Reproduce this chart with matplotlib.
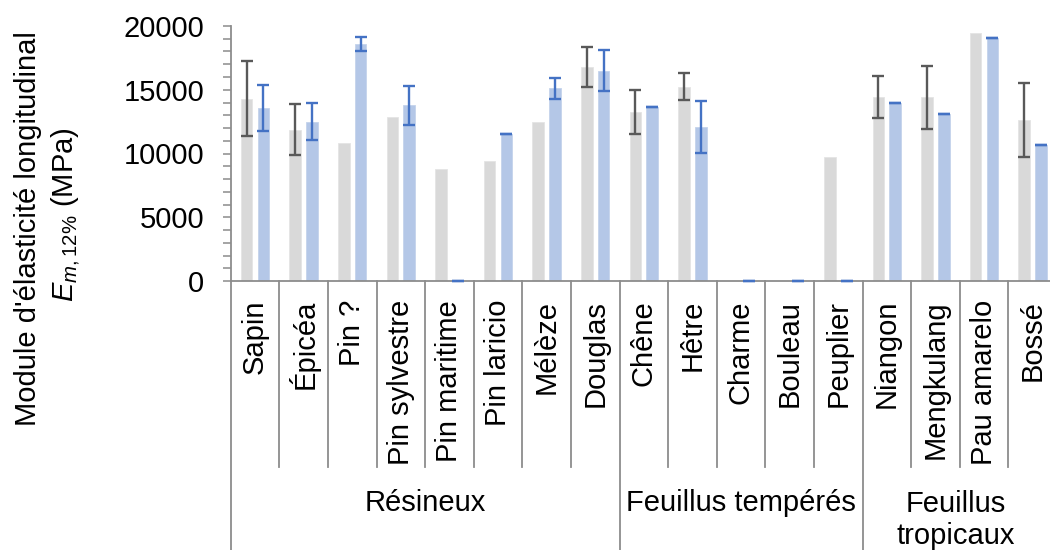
import numpy as np
import matplotlib
matplotlib.use("Agg")
import matplotlib.pyplot as plt
from matplotlib.ticker import MultipleLocator

plt.rcParams['font.family'] = ['Liberation Sans', 'DejaVu Sans']
plt.rcParams['mathtext.fontset'] = 'custom'
plt.rcParams['mathtext.rm'] = 'Liberation Sans'
plt.rcParams['mathtext.it'] = 'Liberation Sans:italic'

categories = ["Sapin", "Épicéa", "Pin ?", "Pin sylvestre", "Pin maritime", "Pin laricio",
              "Mélèze", "Douglas", "Chêne", "Hêtre", "Charme", "Bouleau", "Peuplier",
              "Niangon", "Mengkulang", "Pau amarelo", "Bossé"]
groups = ["Résineux", "Feuillus tempérés", "Feuillus\ntropicaux"]
group_sizes = [8, 5, 4]

grey_vals = [14300, 11850, 10800, 12850, 8750, 9450, 12450, 16750, 13250, 15250,
             0, 0, 9750, 14400, 14400, 19430, 12630]
grey_err = [2950, 2000, np.nan, np.nan, np.nan, np.nan, np.nan, 1570, 1750, 1050,
            np.nan, np.nan, np.nan, 1650, 2450, np.nan, 2880]
blue_vals = [13570, 12500, 18600, 13800, 0, 11500, 15100, 16500, 13650, 12100,
             0, 0, 0, 13950, 13120, 19080, 10650]
blue_err = [1800, 1470, 560, 1530, 0, 0, 800, 1600, 0, 2050,
            0, 0, 0, 0, 0, 0, 0]

yticks = [0, 5000, 10000, 15000, 20000]

GREY = "#D9D9D9"
BLUE = "#B4C7E7"
GREY_ERR = "#595959"
BLUE_ERR = "#4472C4"
AXC = "#8C8C8C"
FS = 21

W, H = 1050, 550
fig = plt.figure(figsize=(W / 100, H / 100), dpi=100)
left_px, right_px, top_px, bot_px = 230.7, 1056.9, 26, 281
ax = fig.add_axes([left_px / W, 1 - bot_px / H, (right_px - left_px) / W, (bot_px - top_px) / H])

n = len(categories)
x = np.arange(n)
off, bw = 0.172, 0.24
ax.bar(x - off, grey_vals, bw, color=GREY, edgecolor="#E4E4E4", linewidth=0.6, zorder=2)
ax.bar(x + off, blue_vals, bw, color=BLUE, edgecolor="#C4D3EC", linewidth=0.6, zorder=2)

for i in range(n):
    if not np.isnan(grey_err[i]):
        ax.errorbar(x[i] - off, grey_vals[i], yerr=grey_err[i], fmt='none', ecolor=GREY_ERR,
                    elinewidth=1.7, capsize=4.2, capthick=1.7, zorder=3, clip_on=False)
    if not np.isnan(blue_err[i]):
        ax.errorbar(x[i] + off, blue_vals[i], yerr=blue_err[i], fmt='none', ecolor=BLUE_ERR,
                    elinewidth=1.7, capsize=4.2, capthick=1.7, zorder=3, clip_on=False)

ax.set_xlim(-0.5, n - 0.5)
ax.set_ylim(0, 20000)
ax.set_yticks(yticks)
ax.set_yticklabels([str(v) for v in yticks], fontsize=FS)
ax.yaxis.set_minor_locator(MultipleLocator(1000))
ax.tick_params(axis='y', which='both', direction='out', length=6, width=1.1, color=AXC, pad=13)
ax.set_xticks([])
for s in ['top', 'right']:
    ax.spines[s].set_visible(False)
for s in ['left', 'bottom']:
    ax.spines[s].set_color(AXC)
    ax.spines[s].set_linewidth(1.3)

tr = ax.get_xaxis_transform()
ax_h = bot_px - top_px
y_inner = -(467 - bot_px) / ax_h
y_outer = -(560 - bot_px) / ax_h
bounds = np.arange(n + 1) - 0.5
group_edges = np.cumsum([0] + group_sizes) - 0.5
for b in bounds:
    is_group = np.any(np.isclose(group_edges, b))
    ax.plot([b, b], [0, y_outer if is_group else y_inner], transform=tr, color=AXC,
            lw=1.3, clip_on=False, zorder=1)

y_lab = -(300 - bot_px) / ax_h
for i, c in enumerate(categories):
    ax.text(x[i], y_lab, c, rotation=90, ha='center', va='top', fontsize=FS,
            transform=tr, color="black")

starts = np.cumsum([0] + group_sizes[:-1])
gx = [starts[k] + group_sizes[k] / 2 - 0.5 for k in range(len(groups))]
gx[2] = (956 - left_px) / ((right_px - left_px) / n) - 0.5
gy = [-(503 - bot_px) / ax_h, -(503 - bot_px) / ax_h, -(520 - bot_px) / ax_h]
for k, g in enumerate(groups):
    ax.text(gx[k], gy[k], g, ha='center', va='center', fontsize=FS, transform=tr,
            linespacing=1.15, multialignment='center')

fig.text(28 / W, 1 - 229 / H, "Module d'élasticité longitudinal", rotation=90,
         ha='center', va='center', fontsize=FS)
fig.text(66 / W, 1 - 215 / H, r"$E_{\mathit{m,12\%}}$ (MPa)", rotation=90,
         ha='center', va='center', fontsize=FS)

fig.savefig("out.png", dpi=100)
